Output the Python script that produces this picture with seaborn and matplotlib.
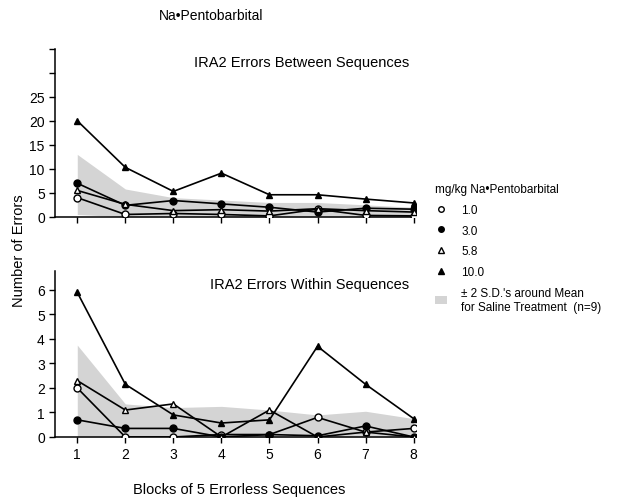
import numpy as np
import pandas as pd
import matplotlib
matplotlib.use('Agg')
import matplotlib.pyplot as plt
import seaborn as sns
from matplotlib.lines import Line2D
from matplotlib.patches import Patch

# blocks of 5 errorless sequences
blocks = [1, 2, 3, 4, 5, 6, 7, 8]
doses = ['1.0', '3.0', '5.8', '10.0']

# IRA2 errors between sequences
between_1_0 = [4.0, 0.5, 0.7, 0.5, 0.2, 1.6, 0.3, 0.2]
between_3_0 = [7.0, 2.4, 3.4, 2.7, 2.0, 1.0, 1.8, 1.6]
between_5_8 = [5.5, 2.6, 1.3, 1.5, 1.2, 1.7, 1.3, 1.0]
between_10_0 = [20.0, 10.3, 5.3, 9.1, 4.6, 4.6, 3.7, 2.9]
between_sd_lo = [0.5, 0.0, 0.0, 0.0, 0.0, 0.0, 0.0, 0.0]
between_sd_hi = [13.0, 5.8, 4.0, 3.5, 3.0, 3.0, 2.5, 2.0]

# IRA2 errors within sequences
within_1_0 = [2.0, 0.0, 0.0, 0.1, 0.1, 0.8, 0.2, 0.35]
within_3_0 = [0.7, 0.35, 0.35, 0.0, 0.1, 0.05, 0.45, 0.0]
within_5_8 = [2.3, 1.1, 1.35, 0.0, 1.1, 0.0, 0.2, 0.0]
within_10_0 = [5.9, 2.15, 0.9, 0.57, 0.7, 3.7, 2.15, 0.75]
within_sd_lo = [0.0, 0.0, 0.0, 0.0, 0.0, 0.0, 0.0, 0.0]
within_sd_hi = [3.75, 1.35, 1.2, 1.25, 1.1, 0.9, 1.05, 0.75]

marker_style = {
    '1.0': dict(marker='o', mfc='white'),
    '3.0': dict(marker='o', mfc='black'),
    '5.8': dict(marker='^', mfc='white'),
    '10.0': dict(marker='^', mfc='black'),
}


def draw_panel(ax, series, lo, hi, title):
    ax.fill_between(blocks, lo, hi, color='#d4d4d4', linewidth=0, zorder=1)
    for dose, vals in zip(doses, series):
        df = pd.DataFrame({'block': blocks, 'errors': vals})
        st = marker_style[dose]
        sns.lineplot(data=df, x='block', y='errors', ax=ax, color='black',
                     linewidth=1.2, marker=st['marker'], markersize=5,
                     markerfacecolor=st['mfc'], markeredgecolor='black',
                     markeredgewidth=1, zorder=3)
    ax.set_xlim(0.54, 8.05)
    ax.set_xticks(blocks)
    ax.set_xlabel('')
    ax.set_ylabel('')
    ax.spines['top'].set_visible(False)
    ax.spines['right'].set_visible(False)
    for s in ('left', 'bottom'):
        ax.spines[s].set_color('black')
        ax.spines[s].set_linewidth(1.1)
    ax.text(0.98, 0.92, title, transform=ax.transAxes, ha='right', va='center',
            fontsize=10.5, color='black')
    ax.tick_params(direction='out', length=4, width=1, labelsize=10,
                   color='black', labelcolor='black', bottom=True, left=True)


sns.set_style('ticks')
plt.rcParams['font.family'] = ['Liberation Sans', 'DejaVu Sans']
plt.rcParams['text.color'] = 'black'

fig = plt.figure(figsize=(6.2, 5.02), dpi=100)
ax1 = fig.add_axes([0.089, 0.566, 0.582, 0.335])
ax2 = fig.add_axes([0.089, 0.1275, 0.582, 0.331])

draw_panel(ax1, [between_1_0, between_3_0, between_5_8, between_10_0],
           between_sd_lo, between_sd_hi, 'IRA2 Errors Between Sequences')
ax1.set_ylim(0, 35)
ax1.set_yticks([0, 5, 10, 15, 20, 25, 30, 35])
ax1.set_yticklabels(['0', '5', '10', '15', '20', '25', '', ''])
ax1.set_xticklabels([])

draw_panel(ax2, [within_1_0, within_3_0, within_5_8, within_10_0],
           within_sd_lo, within_sd_hi, 'IRA2 Errors Within Sequences')
ax2.set_ylim(0, 6.78)
ax2.set_yticks([0, 1, 2, 3, 4, 5, 6])

fig.text(0.34, 0.968, 'Na\u2022Pentobarbital', ha='center', va='center', fontsize=10)
fig.text(0.03, 0.5, 'Number of Errors', rotation=90, ha='center', va='center', fontsize=10.5)
fig.text(0.385, 0.024, 'Blocks of 5 Errorless Sequences', ha='center', va='center', fontsize=10.5)

handles = [Line2D([], [], color='black', linestyle='none', marker=marker_style[d]['marker'],
                  markerfacecolor=marker_style[d]['mfc'], markersize=4)
           for d in doses]
handles.append(Patch(facecolor='#d4d4d4', edgecolor='none'))
labels = doses + ['\u00b1 2 S.D.\'s around Mean\nfor Saline Treatment  (n=9)']
leg = fig.legend(handles, labels, loc='upper left', bbox_to_anchor=(0.685, 0.655),
                 frameon=False, fontsize=8.5, title='mg/kg Na\u2022Pentobarbital',
                 title_fontsize=8.5, handlelength=1.0, handletextpad=1.2,
                 labelspacing=0.75, alignment='left')

fig.savefig('out.png', dpi=100)
